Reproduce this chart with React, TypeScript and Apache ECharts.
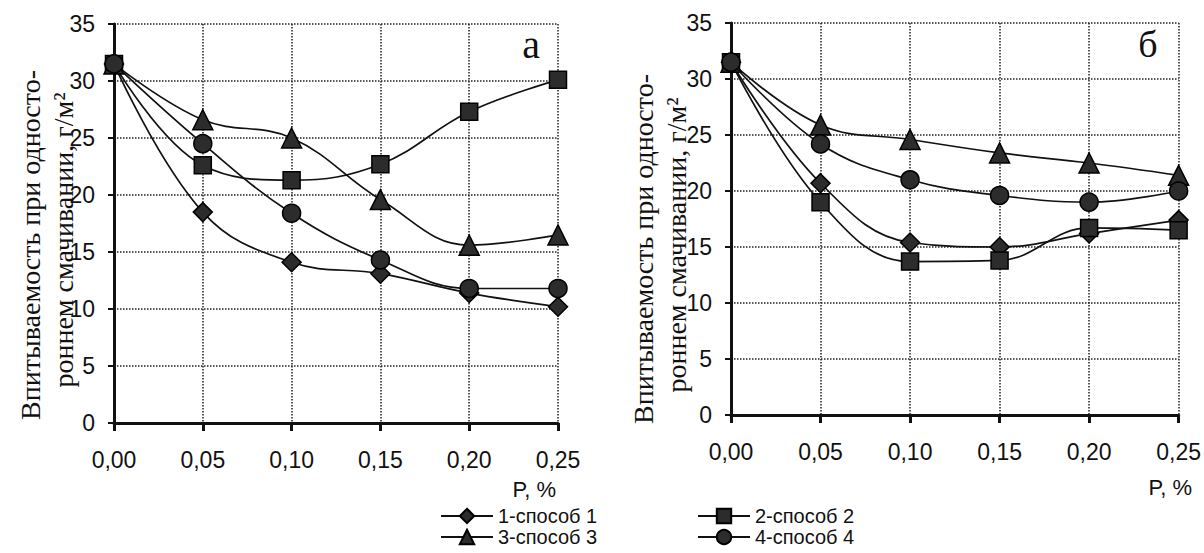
import React, { useEffect, useRef } from "react";
import * as echarts from "echarts";

const xValues = [0, 0.05, 0.1, 0.15, 0.2, 0.25];
const yTicks = [0, 5, 10, 15, 20, 25, 30, 35];
const seriesNames = ["1-способ 1", "2-способ 2", "3-способ 3", "4-способ 4"];
const seriesSymbols = ["diamond", "rect", "triangle", "circle"];
const seriesSymbolSizes = [19, 17, 20, 18];

// panel а
const aMethod1 = [31.5, 18.5, 14.1, 13.1, 11.4, 10.2];
const aMethod2 = [31.5, 22.6, 21.3, 22.7, 27.3, 30.1];
const aMethod3 = [31.5, 26.6, 25.0, 19.6, 15.6, 16.5];
const aMethod4 = [31.5, 24.5, 18.4, 14.3, 11.8, 11.8];
// panel б
const bMethod1 = [31.5, 20.7, 15.4, 15.0, 16.2, 17.4];
const bMethod2 = [31.5, 19.0, 13.7, 13.8, 16.7, 16.5];
const bMethod3 = [31.5, 25.9, 24.6, 23.4, 22.5, 21.4];
const bMethod4 = [31.5, 24.2, 21.0, 19.6, 19.0, 20.0];

const panelA = [aMethod1, aMethod2, aMethod3, aMethod4];
const panelB = [bMethod1, bMethod2, bMethod3, bMethod4];

const yTitle1 = "Впитываемость при односто-";
const yTitle2 = "роннем смачивании, г/м²";
const xTitle = "P, %";

const SANS = "Liberation Sans, Arial, sans-serif";
const SERIF = "Liberation Serif, Times New Roman, serif";
const INK = "#111";

export default function App() {
  const ref = useRef<HTMLDivElement>(null);
  useEffect(() => {
    document.body.style.margin = "0";
    const chart = echarts.init(ref.current!, undefined, { renderer: "svg" });

    const mkX = (gi: number) => ({
      type: "value",
      gridIndex: gi,
      min: 0,
      max: 0.25,
      interval: 0.05,
      axisLine: { show: true, onZero: false, lineStyle: { color: INK, width: 3 } },
      axisTick: { show: true, length: 8, lineStyle: { color: INK, width: 3 } },
      splitLine: { show: true, lineStyle: { type: "dotted", color: "#222", width: 1.5 } },
      axisLabel: {
        fontSize: 23,
        fontFamily: SANS,
        color: INK,
        margin: 25,
        formatter: (v: number) => v.toFixed(2).replace(".", ","),
      },
    });
    const mkY = (gi: number) => ({
      type: "value",
      gridIndex: gi,
      min: yTicks[0],
      max: yTicks[yTicks.length - 1],
      interval: 5,
      axisLine: { show: true, lineStyle: { color: INK, width: 3 } },
      axisTick: { show: true, length: 6, lineStyle: { color: INK, width: 2 } },
      splitLine: { show: true, lineStyle: { type: "dotted", color: "#222", width: 1.5 } },
      axisLabel: { fontSize: 23, fontFamily: SANS, color: INK, margin: 19 },
    });

    const series: any[] = [];
    [panelA, panelB].forEach((panel, gi) => {
      panel.forEach((vals, si) => {
        series.push({
          type: "line",
          name: seriesNames[si],
          xAxisIndex: gi,
          yAxisIndex: gi,
          data: vals.map((v, i) => [xValues[i], v]),
          smooth: 0.4,
          clip: false,
          symbol: seriesSymbols[si],
          symbolSize: seriesSymbolSizes[si],
          showSymbol: true,
          lineStyle: { color: INK, width: 1.7 },
          itemStyle: { color: "#2c2c2c", borderColor: "#000", borderWidth: 1.5 },
          z: 3 + si,
        });
      });
    });

    const legendCommon = {
      orient: "vertical",
      itemWidth: 52,
      itemHeight: 18,
      itemGap: 1,
      padding: 0,
      height: 60,
      textStyle: { fontSize: 20, fontFamily: SANS, color: INK, lineHeight: 20 },
      selectedMode: false,
    };

    const txt = (x: number, y: number, text: string, font: string, rot = 0, align = "center") => ({
      type: "text",
      x,
      y,
      rotation: rot,
      style: {
        text,
        font,
        fill: INK,
        textAlign: align,
        align,
        textVerticalAlign: "middle",
        verticalAlign: "middle",
      },
    });

    chart.setOption({
      animation: false,
      backgroundColor: "#fff",
      grid: [
        { left: 114, top: 24, width: 444, height: 399 },
        { left: 731, top: 23, width: 450, height: 392 },
      ],
      xAxis: [mkX(0), mkX(1)],
      yAxis: [mkY(0), mkY(1)],
      legend: [
        { ...legendCommon, left: 440, top: 506, data: [seriesNames[0], seriesNames[2]] },
        { ...legendCommon, left: 697, top: 506, data: [seriesNames[1], seriesNames[3]] },
      ],
      graphic: [
        txt(30, 245, yTitle1, `28px ${SERIF}`, Math.PI / 2),
        txt(63, 240, yTitle2, `28px ${SERIF}`, Math.PI / 2),
        txt(643, 249, yTitle1, `28px ${SERIF}`, Math.PI / 2),
        txt(676, 245, yTitle2, `28px ${SERIF}`, Math.PI / 2),
        txt(531, 44, "а", `40px ${SERIF}`),
        txt(1148, 44, "б", `38px ${SERIF}`),
        txt(556, 489, xTitle, `22px ${SANS}`, 0, "right"),
        txt(1192, 487, xTitle, `22px ${SANS}`, 0, "right"),
      ],
      series,
    });
    return () => chart.dispose();
  }, []);
  return (
    <div
      ref={ref}
      style={{ position: "fixed", left: 0, top: 0, width: 1204, height: 553 }}
    />
  );
}
